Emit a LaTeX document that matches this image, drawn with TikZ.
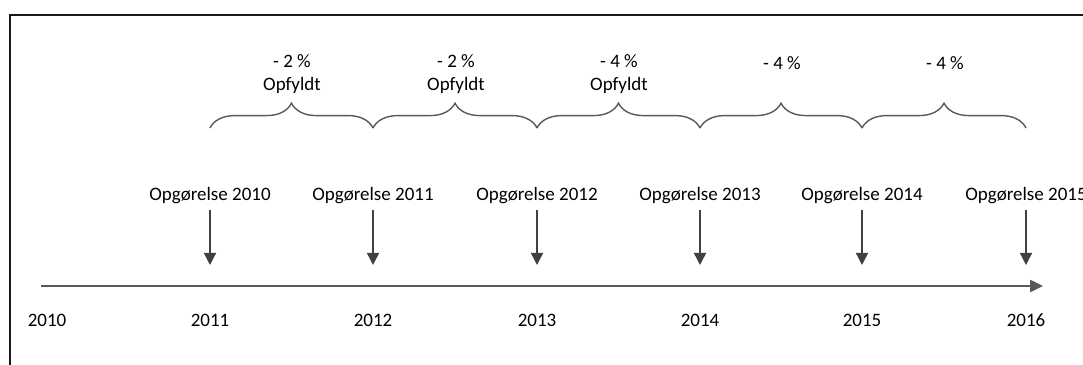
\documentclass[tikz,border=0pt]{standalone}
\usepackage{fontspec}
\setmainfont{Carlito}
\definecolor{linegray}{RGB}{89,89,89}
\definecolor{arrowgray}{RGB}{64,64,64}
\usetikzlibrary{
  arrows.meta,
  positioning,
  decorations.pathreplacing
}

\begin{document}
\begin{tikzpicture}[
  x=0.025cm, y=-0.025cm,
  year/.style={font=\fontsize{13.5}{16}\selectfont, text=black},
  opg/.style={font=\fontsize{13.5}{16}\selectfont, text=black, inner sep=4.2pt},
  pct/.style={font=\fontsize{13.5}{16}\selectfont, text=black, align=center},
  marker/.style={-{Triangle[length=0.3cm, width=0.3cm]}, line width=1pt, draw=arrowgray},
  axis/.style={-{Triangle[length=0.32cm, width=0.3cm]}, line width=1.3pt, draw=linegray},
  brace/.style={decorate, decoration={brace, amplitude=0.62cm}, line width=1pt, draw=linegray}
]
  \useasboundingbox (0,0) rectangle (1083,365);

  % Frame
  \draw[line width=1.5pt, draw=black!90] (10,365) -- (10,15) -- (1083,15);

  % Timeline
  \coordinate (start) at (41,286);
  \coordinate (end) at (1043,286);
  \draw[axis] (start) -- (end);

  % Years
  \node[year] (y2010) at (47,320) {2010};
  \node[year] (y2011) at (210,320) {2011};
  \node[year] (y2012) at (373,320) {2012};
  \node[year] (y2013) at (537,320) {2013};
  \node[year] (y2014) at (700,320) {2014};
  \node[year] (y2015) at (862,320) {2015};
  \node[year] (y2016) at (1026,320) {2016};

  % Opgoerelser
  \node[opg] (op2010) at (210,196) {Opgørelse 2010};
  \node[opg] (op2011) at (373,196) {Opgørelse 2011};
  \node[opg] (op2012) at (537,196) {Opgørelse 2012};
  \node[opg] (op2013) at (700,196) {Opgørelse 2013};
  \node[opg] (op2014) at (862,196) {Opgørelse 2014};
  \node[opg] (op2015) at (1026,196) {Opgørelse 2015};

  \coordinate (m2011) at (210,265);
  \coordinate (m2012) at (373,265);
  \coordinate (m2013) at (537,265);
  \coordinate (m2014) at (700,265);
  \coordinate (m2015) at (862,265);
  \coordinate (m2016) at (1026,265);

  \draw[marker] (op2010.south) -- (m2011);
  \draw[marker] (op2011.south) -- (m2012);
  \draw[marker] (op2012.south) -- (m2013);
  \draw[marker] (op2013.south) -- (m2014);
  \draw[marker] (op2014.south) -- (m2015);
  \draw[marker] (op2015.south) -- (m2016);

  % Braces
  \coordinate (b1) at (210,128);
  \coordinate (b2) at (373,128);
  \coordinate (b3) at (537,128);
  \coordinate (b4) at (700,128);
  \coordinate (b5) at (862,128);
  \coordinate (b6) at (1026,128);

  \draw[brace] (b1) -- (b2);
  \draw[brace] (b2) -- (b3);
  \draw[brace] (b3) -- (b4);
  \draw[brace] (b4) -- (b5);
  \draw[brace] (b5) -- (b6);

  % Reductions
  \node[pct] (p1) at (292,74) {- 2 \%\\Opfyldt};
  \node[pct] (p2) at (456,74) {- 2 \%\\Opfyldt};
  \node[pct] (p3) at (619,74) {- 4 \%\\Opfyldt};
  \node[pct] (p4) at (782,63) {- 4 \%};
  \node[pct] (p5) at (945,63) {- 4 \%};
\end{tikzpicture}
\end{document}
